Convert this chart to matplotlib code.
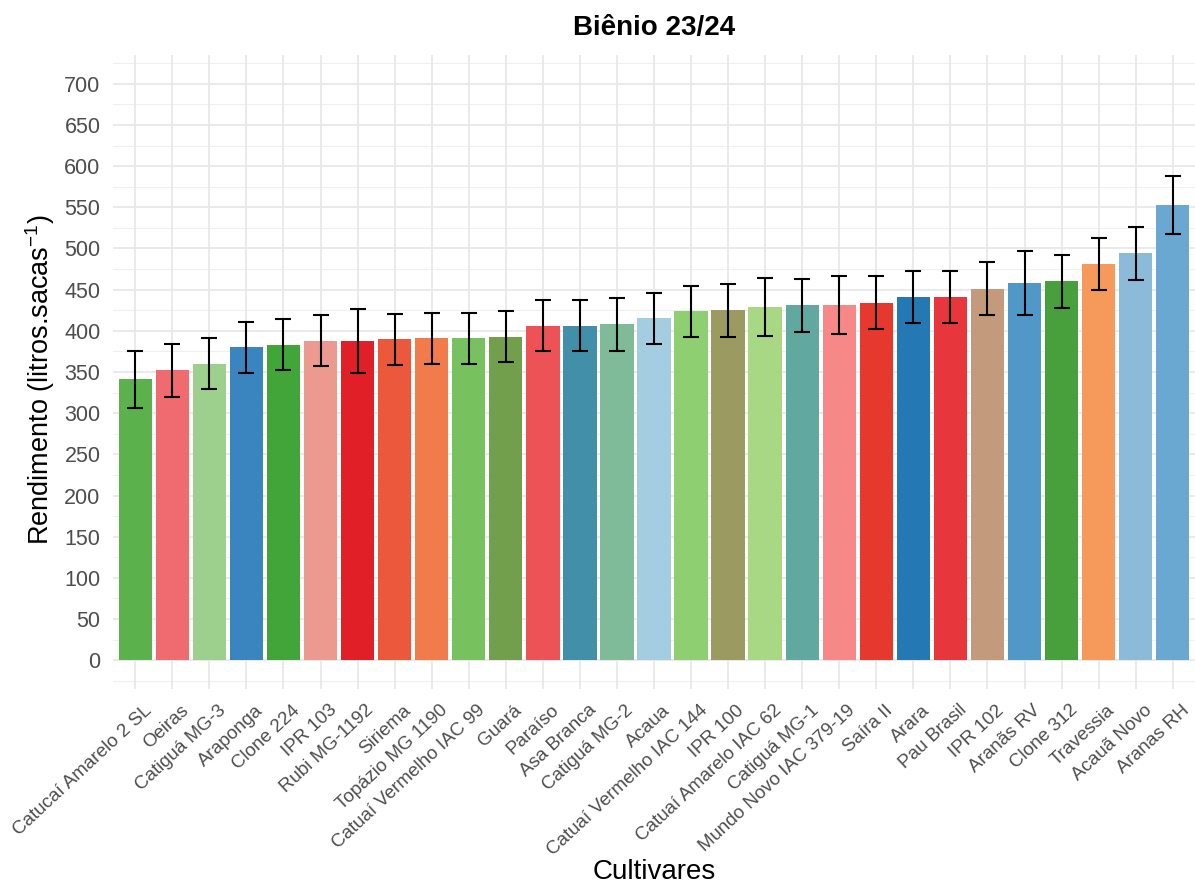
import matplotlib
matplotlib.use("Agg")
import matplotlib.pyplot as plt
import matplotlib.transforms as mtransforms
import numpy as np

plt.rcParams["font.family"] = ["Liberation Sans", "DejaVu Sans"]
plt.rcParams["mathtext.fontset"] = "custom"
plt.rcParams["mathtext.rm"] = "Liberation Sans"
plt.rcParams["mathtext.it"] = "Liberation Sans:italic"

cultivares = [
    "Catucaí Amarelo 2 SL", "Oeiras", "Catiguá MG-3", "Araponga", "Clone 224",
    "IPR 103", "Rubi MG-1192", "Siriema", "Topázio MG 1190", "Catuaí Vermelho IAC 99",
    "Guará", "Paraíso", "Asa Branca", "Catiguá MG-2", "Acaua",
    "Catuaí Vermelho IAC 144", "IPR 100", "Catuaí Amarelo IAC 62", "Catiguá MG-1",
    "Mundo Novo IAC 379-19", "Saíra II", "Arara", "Pau Brasil", "IPR 102",
    "Aranãs RV", "Clone 312", "Travessia", "Acauã Novo", "Aranas RH",
]
rendimento = [341, 352, 360, 380, 383, 388, 388, 390, 391, 391,
              393, 406, 406, 408, 415, 424, 425, 429, 431, 431,
              434, 441, 441, 451, 458, 460, 481, 494, 553]
erro = [35, 32, 31, 31, 31, 31, 39, 31, 31, 31,
        31, 31, 31, 32, 31, 31, 32, 35, 32, 35,
        32, 32, 32, 32, 39, 32, 32, 32, 35]
cores = [
    "#5bb14b", "#f06b6f", "#9dd08d", "#3a85bf", "#41a539",
    "#ec9a90", "#e01f26", "#eb583b", "#f27b4c", "#77c25e",
    "#719f4c", "#ed5256", "#418fa8", "#7fbb98", "#a5cde2",
    "#8ecf72", "#9a9a61", "#a9d884", "#61a8a1", "#f78888",
    "#e6382c", "#2479b4", "#e7373c", "#c49a7c", "#5098c8",
    "#47a03b", "#f59a5b", "#8cbbd9", "#6aa7d1",
]
y_ticks = list(range(0, 701, 50))

W, H = 1195, 886
fig = plt.figure(figsize=(W / 100, H / 100), dpi=100)
ax = fig.add_axes([113 / W, (H - 689) / H, (1195 - 113) / W, (689 - 55) / H])

x = np.arange(1, len(cultivares) + 1)

# grid in the style of a minimal theme
ax.set_axisbelow(True)
for v in np.arange(-25, 736, 50):
    ax.axhline(v, color="#f0f0f0", lw=0.8, zorder=0)
for v in y_ticks:
    ax.axhline(v, color="#e8e8e8", lw=1.3, zorder=0)
for xi in x:
    ax.axvline(xi, color="#e8e8e8", lw=1.3, zorder=0)

ax.bar(x, rendimento, width=0.9, color=cores, zorder=2)
ax.errorbar(x, rendimento, yerr=erro, fmt="none", ecolor="black",
            elinewidth=1.5, capsize=5.5, capthick=1.5, zorder=3)

ax.set_xlim(0.4, len(cultivares) + 0.6)
ax.set_ylim(-35, 735)
ax.set_yticks(y_ticks)
ax.set_yticklabels([str(v) for v in y_ticks], fontsize=15.5, color="#4d4d4d")
ax.set_xticks(x)
ax.set_xticklabels(cultivares, rotation=43, ha="right", va="top",
                   rotation_mode="anchor", fontsize=13.5, color="#4d4d4d")
ax.tick_params(axis="both", length=0)
ax.tick_params(axis="y", pad=9)
ax.tick_params(axis="x", pad=7)

# nudge the slanted labels so their ends sit just right of each tick
shift = mtransforms.ScaledTranslation(8 / 100, -3 / 100, fig.dpi_scale_trans)
for lab in ax.get_xticklabels():
    lab.set_transform(lab.get_transform() + shift)

for s in ax.spines.values():
    s.set_visible(False)

fig.text((113 + 1195) / 2 / W, 1 - 28 / H, "Biênio 23/24", fontsize=20,
         fontweight="bold", ha="center", va="center")
fig.text(40 / W, 1 - 380 / H, "Rendimento (litros.sacas$^{-1}$)", fontsize=19.5,
         rotation=90, ha="center", va="center")
fig.text((113 + 1195) / 2 / W, 1 - 872 / H, "Cultivares", fontsize=20,
         ha="center", va="center")

fig.savefig("out.png", dpi=100, facecolor="white")
